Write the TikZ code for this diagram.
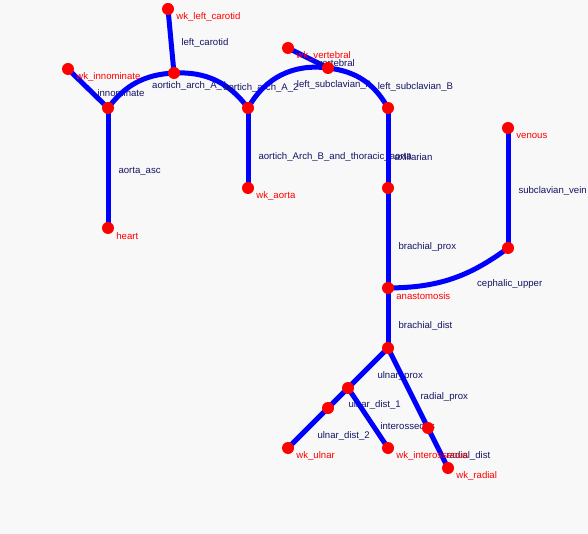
\documentclass[tikz,border=0pt]{standalone}
\usepackage{fontspec}
\setmainfont{Liberation Sans}
\definecolor{vesselblue}{RGB}{0,0,255}
\definecolor{jointred}{RGB}{255,0,0}
\definecolor{edgetext}{RGB}{20,20,100}
\definecolor{bggray}{RGB}{248,248,248}
\tikzset{
  vessel/.style={draw=vesselblue, line width=5pt},
  joint/.style={circle, fill=jointred, inner sep=0pt, minimum size=12pt},
  vlbl/.style={text=edgetext, anchor=west, inner sep=0pt, font=\fontsize{9.6}{11}\selectfont},
  wklbl/.style={text=jointred, inner sep=2pt, yshift=-8pt, font=\fontsize{9.6}{11}\selectfont}
}
\begin{document}
\begin{tikzpicture}[x=1pt,y=1pt]
  \clip (0,0) rectangle (588,-534);
  \fill[bggray] (0,0) rectangle (588,-534);
  % junction points
  \coordinate (wkInnom) at (68,-69);
  \coordinate (innom) at (108,-108);
  \coordinate (heart) at (108,-228);
  \coordinate (archTop) at (174,-73);
  \coordinate (wkCarotid) at (168,-9);
  \coordinate (archMid) at (248,-108);
  \coordinate (wkAorta) at (248,-188);
  \coordinate (vertJ) at (328,-68);
  \coordinate (wkVert) at (288,-48);
  \coordinate (subclB) at (388,-108);
  \coordinate (axil) at (388,-188);
  \coordinate (anast) at (388,-288);
  \coordinate (venous) at (508,-128);
  \coordinate (ceph) at (508,-248);
  \coordinate (brachD) at (388,-348);
  \coordinate (ulnarP) at (348,-388);
  \coordinate (ulnarD1) at (328,-408);
  \coordinate (wkUlnar) at (288,-448);
  \coordinate (wkInteross) at (388,-448);
  \coordinate (radialP) at (428,-428);
  \coordinate (wkRadial) at (448,-468);
  % vessels
  \draw[vessel] (wkCarotid) -- node[vlbl,xshift=8pt,yshift=-2pt] {left\_carotid} (archTop);
  \draw[vessel] (wkInnom) -- node[vlbl,xshift=7pt,yshift=-4.5pt] {innominate} (innom);
  \draw[vessel] (innom) -- node[vlbl,xshift=8pt,yshift=-3pt] {aorta\_asc} (heart);
  \draw[vessel] (innom) to[bend left=25] node[vlbl,xshift=13pt,yshift=-4pt] {aortich\_arch\_A\_1} (archTop);
  \draw[vessel] (archTop) to[bend left=28] node[vlbl,xshift=5pt,yshift=-8pt] {aortich\_arch\_A\_2} (archMid);
  \draw[vessel] (archMid) -- node[vlbl,xshift=8pt,yshift=-9pt] {aortich\_Arch\_B\_and\_thoracic\_aorta} (wkAorta);
  \draw[vessel] (archMid) to[bend left=34] node[vlbl,xshift=13pt,yshift=-10pt] {left\_subclavian\_A} (vertJ);
  \draw[vessel] (wkVert) -- node[vlbl,xshift=7pt,yshift=-5pt] {vertebral} (vertJ);
  \draw[vessel] (vertJ) to[bend left=27] node[vlbl,xshift=12pt,yshift=-7pt] {left\_subclavian\_B} (subclB);
  \draw[vessel] (subclB) -- node[vlbl,xshift=4pt,yshift=-9pt] {axillarian} (axil);
  \draw[vessel] (axil) -- node[vlbl,xshift=8pt,yshift=-9pt] {brachial\_prox} (anast);
  \draw[vessel] (venous) -- node[vlbl,xshift=8pt,yshift=-3pt] {subclavian\_vein} (ceph);
  \draw[vessel] (anast) to[bend right=18] node[vlbl,xshift=23pt,yshift=-5pt] {cephalic\_upper} (ceph);
  \draw[vessel] (anast) -- node[vlbl,xshift=8pt,yshift=-8pt] {brachial\_dist} (brachD);
  \draw[vessel] (brachD) -- node[vlbl,xshift=7pt,yshift=-8pt] {ulnar\_prox} (ulnarP);
  \draw[vessel] (brachD) -- node[vlbl,xshift=10pt,yshift=-9pt] {radial\_prox} (radialP);
  \draw[vessel] (ulnarP) -- node[vlbl,xshift=8pt,yshift=-7pt] {ulnar\_dist\_1} (ulnarD1);
  \draw[vessel] (ulnarP) -- node[vlbl,xshift=10pt,yshift=-8pt] {interosseous} (wkInteross);
  \draw[vessel] (ulnarD1) -- node[vlbl,xshift=7pt,yshift=-8pt] {ulnar\_dist\_2} (wkUlnar);
  \draw[vessel] (radialP) -- node[vlbl,xshift=6pt,yshift=-8pt] {radial\_dist} (wkRadial);
  % dots
  \node[joint,label={[wklbl]right:wk\_innominate}] at (wkInnom) {};
  \node[joint] at (innom) {};
  \node[joint,label={[wklbl]right:heart}] at (heart) {};
  \node[joint] at (archTop) {};
  \node[joint,label={[wklbl]right:wk\_left\_carotid}] at (wkCarotid) {};
  \node[joint] at (archMid) {};
  \node[joint,label={[wklbl]right:wk\_aorta}] at (wkAorta) {};
  \node[joint] at (vertJ) {};
  \node[joint,label={[wklbl]right:wk\_vertebral}] at (wkVert) {};
  \node[joint] at (subclB) {};
  \node[joint] at (axil) {};
  \node[joint,label={[wklbl]right:anastomosis}] at (anast) {};
  \node[joint,label={[wklbl]right:venous}] at (venous) {};
  \node[joint] at (ceph) {};
  \node[joint] at (brachD) {};
  \node[joint] at (ulnarP) {};
  \node[joint] at (ulnarD1) {};
  \node[joint,label={[wklbl]right:wk\_ulnar}] at (wkUlnar) {};
  \node[joint,label={[wklbl]right:wk\_interosseous}] at (wkInteross) {};
  \node[joint] at (radialP) {};
  \node[joint,label={[wklbl]right:wk\_radial}] at (wkRadial) {};
\end{tikzpicture}
\end{document}
